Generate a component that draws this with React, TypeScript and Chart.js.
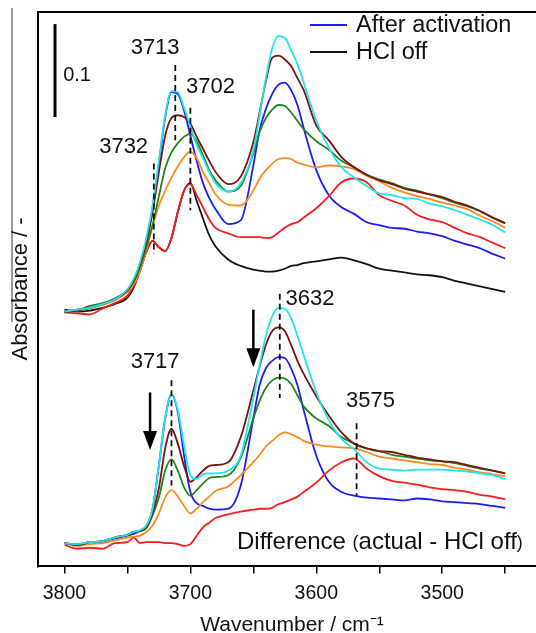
import React, { useEffect, useRef } from 'react';
import { Chart, registerables } from 'chart.js';

Chart.register(...registerables);

// Wavenumber grid (cm^-1) shared by all spectra
const WAVENUMBERS = [3800, 3790, 3780, 3770, 3760, 3750, 3745, 3740, 3735, 3730, 3725, 3720, 3715, 3710, 3705, 3700, 3695, 3690, 3685, 3680, 3670, 3660, 3650, 3645, 3640, 3635, 3630, 3625, 3620, 3615, 3610, 3600, 3590, 3580, 3570, 3560, 3550, 3540, 3530, 3520, 3510, 3500, 3490, 3480, 3470, 3460, 3450];

// Absorbance (mAbs, arbitrary offset) — upper set of spectra
const TOP_CYAN = [274, 276, 278, 282, 287, 298, 309, 327, 353, 388, 436, 485, 511, 510, 493, 473, 453, 439, 424, 412, 403, 412, 447, 485, 525, 557, 570, 568, 555, 540, 520, 479, 450, 429, 418, 409, 401, 399, 396, 395, 390, 387, 383, 378, 373, 367, 359];
const TOP_BROWN = [273, 275, 278, 282, 287, 297, 307, 325, 348, 381, 424, 463, 482, 485, 483, 476, 462, 449, 436, 424, 411, 419, 456, 488, 522, 547, 549, 545, 538, 525, 512, 474, 458, 440, 429, 421, 415, 411, 406, 403, 400, 397, 392, 388, 382, 375, 369];
const TOP_GREEN = [274, 275, 280, 283, 288, 297, 306, 321, 343, 367, 398, 428, 445, 455, 462, 465, 457, 442, 426, 415, 403, 409, 444, 467, 482, 491, 496, 495, 488, 479, 470, 457, 448, 436, 429, 421, 416, 412, 407, 404, 400, 396, 391, 387, 382, 375, 369];
const TOP_ORANGE = [273, 275, 277, 281, 286, 295, 303, 318, 340, 366, 388, 404, 418, 430, 440, 446, 439, 424, 412, 400, 389, 388, 404, 417, 426, 433, 438, 439, 438, 434, 432, 429, 431, 430, 427, 420, 414, 407, 402, 398, 395, 391, 388, 384, 377, 371, 364];
const TOP_RED = [273, 272, 271, 277, 283, 291, 302, 318, 338, 350, 343, 339, 353, 381, 404, 411, 399, 386, 373, 364, 358, 354, 354, 354, 353, 354, 359, 364, 368, 370, 375, 385, 398, 413, 417, 413, 399, 393, 388, 378, 373, 370, 364, 358, 354, 348, 342];
const TOP_BLUE = [274, 276, 278, 282, 287, 297, 307, 326, 350, 386, 433, 483, 510, 508, 490, 463, 436, 412, 396, 384, 368, 372, 431, 469, 492, 508, 518, 520, 512, 496, 471, 426, 399, 386, 379, 370, 367, 364, 363, 360, 358, 355, 350, 346, 342, 336, 331];
const TOP_BLACK = [276, 274, 275, 278, 282, 289, 300, 318, 338, 350, 343, 339, 353, 381, 404, 412, 393, 374, 356, 344, 330, 323, 319, 318, 317, 317, 318, 320, 323, 324, 326, 328, 330, 332, 329, 325, 320, 318, 316, 314, 313, 311, 307, 304, 301, 298, 295];

// Difference spectra (actual - HCl off)
const BOT_CYAN = [25, 24, 26, 27, 31, 34, 37, 39, 44, 62, 109, 159, 185, 168, 130, 98, 94, 99, 100, 100, 103, 119, 181, 216, 248, 269, 278, 277, 267, 248, 227, 187, 157, 137, 126, 112, 105, 104, 103, 104, 104, 104, 103, 102, 100, 98, 94];
const BOT_BROWN = [25, 23, 26, 27, 31, 34, 37, 38, 42, 58, 84, 127, 148, 132, 108, 91, 96, 103, 108, 109, 112, 139, 189, 215, 238, 253, 257, 253, 238, 221, 207, 183, 162, 144, 132, 127, 124, 123, 120, 117, 115, 113, 112, 109, 106, 103, 100];
const BOT_GREEN = [25, 23, 26, 27, 31, 34, 37, 38, 41, 55, 74, 103, 115, 103, 85, 76, 82, 89, 95, 96, 98, 117, 159, 178, 192, 200, 203, 202, 196, 184, 172, 159, 151, 139, 132, 127, 124, 120, 118, 116, 114, 113, 111, 108, 105, 103, 100];
const BOT_ORANGE = [25, 22, 24, 25, 28, 31, 32, 33, 37, 44, 57, 74, 82, 75, 65, 57, 62, 69, 75, 81, 86, 98, 112, 120, 129, 135, 141, 144, 142, 139, 135, 131, 129, 128, 127, 123, 118, 116, 114, 112, 110, 109, 106, 104, 101, 99, 97];
const BOT_RED = [23, 19, 20, 19, 25, 26, 31, 25, 26, 26, 26, 25, 25, 24, 22, 24, 33, 42, 47, 52, 56, 59, 61, 62, 62, 63, 67, 69, 72, 75, 80, 90, 103, 112, 116, 105, 97, 92, 90, 88, 85, 83, 82, 80, 77, 75, 72];
const BOT_BLUE = [25, 24, 26, 27, 30, 33, 35, 38, 43, 62, 109, 159, 185, 166, 119, 80, 68, 65, 62, 61, 62, 87, 159, 195, 213, 221, 225, 224, 213, 195, 168, 119, 91, 80, 76, 74, 73, 72, 71, 73, 72, 70, 69, 68, 67, 65, 63];

const X_TICKS = [3800, 3750, 3700, 3650, 3600, 3550, 3500, 3450];

const PEAK_LABELS = [
  { text: '3713', w: 3728, v: 557 },
  { text: '3702', w: 3684, v: 515 },
  { text: '3732', w: 3753, v: 451 },
  { text: '3632', w: 3605, v: 287 },
  { text: '3717', w: 3728, v: 220 },
  { text: '3575', w: 3557, v: 178 },
];
const PEAK_MARKERS = [
  { w: 3712, from: 458, to: 539 },
  { w: 3700, from: 383, to: 493 },
  { w: 3729, from: 336, to: 433 },
  { w: 3629, from: 181, to: 293 },
  { w: 3715, from: 87, to: 200 },
  { w: 3568, from: 76, to: 154 },
];
const ARROWS = [
  { w: 3732, from: 187, to: 125 },
  { w: 3650, from: 276, to: 214 },
];
const SCALE_BAR = { w: 3807.5, from: 483, to: 583, label: '0.1', labelW: 3801, labelV: 528 };
const DIFF_NOTE = { w: 3663, v: 26 };

const COLORS = {
  cyan: '#22e4ef',
  brown: '#7d1212',
  green: '#1f861f',
  orange: '#ff8a1c',
  red: '#f51d1d',
  blue: '#1c1cf5',
  black: '#111111',
};

const SERIES = [
  { data: TOP_CYAN, color: COLORS.cyan },
  { data: TOP_BROWN, color: COLORS.brown },
  { data: TOP_GREEN, color: COLORS.green },
  { data: TOP_ORANGE, color: COLORS.orange },
  { data: TOP_RED, color: COLORS.red },
  { data: TOP_BLUE, color: COLORS.blue },
  { data: TOP_BLACK, color: COLORS.black },
  { data: BOT_CYAN, color: COLORS.cyan },
  { data: BOT_BROWN, color: COLORS.brown },
  { data: BOT_GREEN, color: COLORS.green },
  { data: BOT_ORANGE, color: COLORS.orange },
  { data: BOT_RED, color: COLORS.red },
  { data: BOT_BLUE, color: COLORS.blue },
];

const LEGEND = [
  { text: 'After activation', color: COLORS.blue },
  { text: 'HCl off', color: COLORS.black },
];

const FONT = '"Liberation Sans", Arial, Helvetica, sans-serif';

const overlayPlugin = {
  id: 'overlay',
  afterDraw(chart: any) {
    const { ctx, chartArea } = chart;
    const xs = chart.scales.x;
    const ys = chart.scales.y;
    const X = (w: number) => xs.getPixelForValue(w);
    const Y = (v: number) => ys.getPixelForValue(v);
    ctx.save();

    // frame (left and top)
    ctx.strokeStyle = '#000';
    ctx.lineWidth = 2;
    ctx.beginPath();
    ctx.moveTo(chartArea.left, chartArea.bottom + 1);
    ctx.lineTo(chartArea.left, chartArea.top);
    ctx.lineTo(chartArea.right + 20, chartArea.top);
    ctx.stroke();

    // thin stray line at far left
    ctx.lineWidth = 1;
    ctx.strokeStyle = '#333';
    ctx.beginPath();
    ctx.moveTo(12, 8);
    ctx.lineTo(12, 322);
    ctx.stroke();

    // y title
    ctx.save();
    ctx.translate(21, 289);
    ctx.rotate(-Math.PI / 2);
    ctx.fillStyle = '#111';
    ctx.font = `22px ${FONT}`;
    ctx.textAlign = 'center';
    ctx.textBaseline = 'middle';
    ctx.fillText('Absorbance / -', 0, 0);
    ctx.restore();

    // scale bar
    ctx.strokeStyle = '#000';
    ctx.lineWidth = 3;
    ctx.beginPath();
    ctx.moveTo(X(SCALE_BAR.w), Y(SCALE_BAR.from));
    ctx.lineTo(X(SCALE_BAR.w), Y(SCALE_BAR.to));
    ctx.stroke();
    ctx.fillStyle = '#111';
    ctx.font = `20px ${FONT}`;
    ctx.textAlign = 'left';
    ctx.textBaseline = 'middle';
    ctx.fillText(SCALE_BAR.label, X(SCALE_BAR.labelW), Y(SCALE_BAR.labelV));

    // dashed peak markers
    ctx.setLineDash([6, 4]);
    ctx.lineWidth = 1.8;
    ctx.strokeStyle = '#111';
    PEAK_MARKERS.forEach((m) => {
      ctx.beginPath();
      ctx.moveTo(X(m.w), Y(m.to));
      ctx.lineTo(X(m.w), Y(m.from));
      ctx.stroke();
    });
    ctx.setLineDash([]);

    // peak labels
    ctx.font = `22px ${FONT}`;
    ctx.textAlign = 'center';
    ctx.textBaseline = 'middle';
    ctx.fillStyle = '#111';
    PEAK_LABELS.forEach((l) => ctx.fillText(l.text, X(l.w), Y(l.v)));

    // arrows
    ARROWS.forEach((a) => {
      const x = X(a.w);
      const y0 = Y(a.from);
      const y1 = Y(a.to);
      ctx.strokeStyle = '#000';
      ctx.lineWidth = 2.5;
      ctx.beginPath();
      ctx.moveTo(x, y0);
      ctx.lineTo(x, y1 - 12);
      ctx.stroke();
      ctx.fillStyle = '#000';
      ctx.beginPath();
      ctx.moveTo(x - 7, y1 - 19);
      ctx.lineTo(x + 7, y1 - 19);
      ctx.lineTo(x, y1);
      ctx.closePath();
      ctx.fill();
    });

    // difference note
    let tx = X(DIFF_NOTE.w);
    const ty = Y(DIFF_NOTE.v);
    ctx.textAlign = 'left';
    ctx.textBaseline = 'middle';
    ctx.fillStyle = '#111';
    const parts = [
      { t: 'Difference ', s: 24 },
      { t: '(', s: 18 },
      { t: 'actual - HCl off', s: 24 },
      { t: ')', s: 18 },
    ];
    parts.forEach((p) => {
      ctx.font = `${p.s}px ${FONT}`;
      ctx.fillText(p.t, tx, ty + (p.s < 20 ? 1 : 0));
      tx += ctx.measureText(p.t).width;
    });

    // legend
    ctx.font = `23.5px ${FONT}`;
    LEGEND.forEach((item, i) => {
      const ly = 25 + i * 27;
      ctx.strokeStyle = item.color;
      ctx.lineWidth = 2;
      ctx.beginPath();
      ctx.moveTo(310, ly);
      ctx.lineTo(347, ly);
      ctx.stroke();
      ctx.fillStyle = '#111';
      ctx.fillText(item.text, 356, ly + 1);
    });

    ctx.restore();
  },
};

export default function App() {
  const canvasRef = useRef<HTMLCanvasElement | null>(null);

  useEffect(() => {
    if (!canvasRef.current) return;
    const chart = new Chart(canvasRef.current, {
      type: 'line',
      data: {
        datasets: SERIES.map((s) => ({
          data: WAVENUMBERS.map((w, i) => ({ x: w, y: s.data[i] })),
          borderColor: s.color,
          borderWidth: 1.8,
          pointRadius: 0,
          fill: false,
          cubicInterpolationMode: 'monotone' as const,
        })),
      },
      options: {
        animation: false,
        responsive: false,
        devicePixelRatio: 1,
        events: [],
        layout: { padding: { left: 38, top: 12, right: 14, bottom: 0 } },
        plugins: { legend: { display: false }, tooltip: { enabled: false } },
        scales: {
          x: {
            type: 'linear',
            reverse: true,
            min: 3417.6,
            max: 3821,
            afterBuildTicks: (scale: any) => {
              scale.ticks = X_TICKS.map((v) => ({ value: v }));
            },
            ticks: {
              callback: (v: any) => (Number(v) % 100 === 0 ? String(v) : ''),
              font: { family: FONT, size: 19.5 },
              color: '#111',
              padding: 9,
              maxRotation: 0,
              autoSkip: false,
            },
            grid: { drawOnChartArea: false, drawTicks: true, tickLength: 7, color: '#000', lineWidth: 1.5 },
            border: { display: true, color: '#000', width: 2 },
            title: {
              display: true,
              text: 'Wavenumber / cm\u207B\u00B9',
              font: { family: FONT, size: 21 },
              color: '#111',
              padding: { top: -2, bottom: 0 },
            },
          },
          y: { display: false, min: 0, max: 596 },
        },
      },
      plugins: [overlayPlugin],
    } as any);
    return () => chart.destroy();
  }, []);

  return (
    <div style={{ position: 'fixed', left: 0, top: 0, width: 536, height: 633, overflow: 'hidden', background: '#fff' }}>
      <canvas ref={canvasRef} width={560} height={638} style={{ display: 'block', width: 560, height: 638 }} />
    </div>
  );
}
